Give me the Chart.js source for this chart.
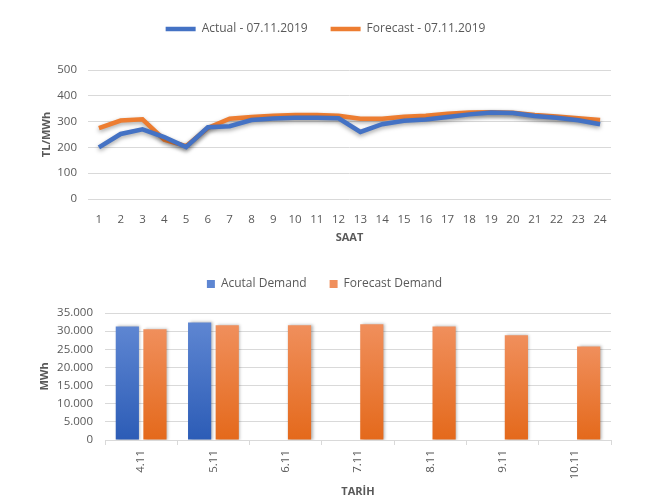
<!DOCTYPE html>
<html>
<head>
<meta charset="utf-8">
<script src="https://cdn.jsdelivr.net/npm/chart.js@4.4.1/dist/chart.umd.min.js"></script>
<style>
  html, body { margin: 0; padding: 0; background: #fff; }
  #wrap { position: relative; width: 652px; height: 502px; }
  .box { position: absolute; left: 0; width: 652px; }
</style>
</head>
<body>
<div id="wrap">
  <div class="box" style="top:0;height:255px"><canvas id="lineChart"></canvas></div>
  <div class="box" style="top:255px;height:247px"><canvas id="barChart"></canvas></div>
</div>
<script>
// hourly prices 07.11.2019
const hours = ['1','2','3','4','5','6','7','8','9','10','11','12','13','14','15','16','17','18','19','20','21','22','23','24'];
const actualPrice = [200, 252, 270, 240, 201, 278, 282, 306, 312, 315, 315, 313, 260, 290, 303, 308, 318, 328, 335, 333, 322, 315, 305, 290];
const forecastPrice = [275, 304, 309, 230, 205, 275, 311, 318, 323, 326, 326, 323, 311, 311, 319, 323, 330, 335, 336, 334, 326, 320, 313, 306];

// daily demand
const dates = ['4.11', '5.11', '6.11', '7.11', '8.11', '9.11', '10.11'];
const actualDemand = [31300, 32400, null, null, null, null, null];
const forecastDemand = [30500, 31600, 31600, 31900, 31300, 28900, 25800];

const grey = '#595959';
const gridCol = '#d9d9d9';
Chart.defaults.font.family = '"Open Sans", sans-serif';
Chart.defaults.color = grey;

// pin legend height so the plot area starts where it should
const fixLegend = h => ({
  id: 'fixLegend',
  beforeUpdate(chart) {
    const lg = chart.legend;
    if (lg && !lg._fixed) {
      const fit = lg.fit;
      lg.fit = function () { fit.call(this); this.height = h; };
      lg._fixed = true;
    }
  }
});

const shadow = (col, blur, ox, oy) => ({
  id: 'shadow',
  beforeDatasetsDraw(chart) {
    const c = chart.ctx;
    c.save();
    c.shadowColor = col;
    c.shadowBlur = blur;
    c.shadowOffsetX = ox;
    c.shadowOffsetY = oy;
  },
  afterDatasetsDraw(chart) { chart.ctx.restore(); }
});

new Chart(document.getElementById('lineChart'), {
  type: 'line',
  data: {
    labels: hours,
    datasets: [
      { label: 'Actual - 07.11.2019', data: actualPrice, borderColor: '#4472C4', backgroundColor: '#4472C4', borderWidth: 4.5, pointRadius: 0, tension: 0 },
      { label: 'Forecast - 07.11.2019', data: forecastPrice, borderColor: '#ED7D31', backgroundColor: '#ED7D31', borderWidth: 4.5, pointRadius: 0, tension: 0 }
    ]
  },
  options: {
    responsive: true,
    maintainAspectRatio: false,
    animation: false,
    layout: { padding: { left: 40, right: 41, top: 0, bottom: 0 } },
    plugins: {
      tooltip: { enabled: false },
      legend: {
        labels: { usePointStyle: true, pointStyle: 'line', pointStyleWidth: 30, padding: 23, color: grey, font: { size: 12 } }
      }
    },
    scales: {
      x: {
        offset: true,
        grid: { display: false },
        border: { display: false },
        ticks: { padding: 6, color: grey, font: { size: 11.5 }, maxRotation: 0 },
        title: { display: true, text: 'SAAT', color: grey, font: { size: 11, weight: 'bold' }, padding: { top: 0, bottom: 11 } },
        afterFit(s) { s.height = 56; }
      },
      y: {
        min: 0,
        max: 500,
        ticks: { stepSize: 100, padding: 11, color: grey, font: { size: 11.5 } },
        grid: { color: gridCol, drawTicks: false },
        border: { display: false },
        title: { display: true, text: 'TL/MWh', color: grey, font: { size: 11, weight: 'bold' }, padding: 0 },
        afterFit(s) { s.width = 48; }
      }
    }
  },
  plugins: [fixLegend(70), shadow('rgba(0,0,0,0.35)', 4, 0, 2)]
});

function barGrad(top, bottom) {
  return ctx => {
    const chart = ctx.chart;
    const area = chart.chartArea;
    if (!area || ctx.raw == null) return bottom;
    const y0 = chart.scales.y.getPixelForValue(ctx.raw);
    const g = chart.ctx.createLinearGradient(0, y0, 0, area.bottom);
    g.addColorStop(0, top);
    g.addColorStop(1, bottom);
    return g;
  };
}

const dotted = v => String(v).replace(/\B(?=(\d{3})+(?!\d))/g, '.');

new Chart(document.getElementById('barChart'), {
  type: 'bar',
  data: {
    labels: dates,
    datasets: [
      { label: 'Acutal Demand', data: actualDemand, backgroundColor: barGrad('#5e86d2', '#2c5cb6'), categoryPercentage: 0.764, barPercentage: 0.84 },
      { label: 'Forecast Demand', data: forecastDemand, backgroundColor: barGrad('#f08f5c', '#e4691b'), categoryPercentage: 0.764, barPercentage: 0.84 }
    ]
  },
  options: {
    responsive: true,
    maintainAspectRatio: false,
    animation: false,
    layout: { padding: { left: 38, right: 41, top: 0, bottom: 0 } },
    plugins: {
      tooltip: { enabled: false },
      legend: {
        labels: { boxWidth: 8, boxHeight: 8, padding: 23, color: grey, font: { size: 12 } }
      }
    },
    scales: {
      x: {
        grid: { display: true, drawOnChartArea: false, drawTicks: true, tickLength: 5, color: gridCol, offset: true },
        border: { display: true, color: gridCol },
        ticks: { minRotation: 90, maxRotation: 90, padding: 5, color: grey, font: { size: 11.5 } },
        title: { display: true, text: 'TARİH', color: grey, font: { size: 11, weight: 'bold' }, padding: { top: 0, bottom: 4 } },
        afterFit(s) { s.height = 62; }
      },
      y: {
        min: 0,
        max: 35000,
        ticks: { stepSize: 5000, padding: 12, color: grey, font: { size: 11.5 }, callback: v => dotted(v) },
        grid: { color: gridCol, drawTicks: false },
        border: { display: false },
        title: { display: true, text: 'MWh', color: grey, font: { size: 11, weight: 'bold' }, padding: 0 },
        afterFit(s) { s.width = 67; }
      }
    }
  },
  plugins: [fixLegend(58), shadow('rgba(0,0,0,0.3)', 3, 1.5, 0)]
});
</script>
</body>
</html>
